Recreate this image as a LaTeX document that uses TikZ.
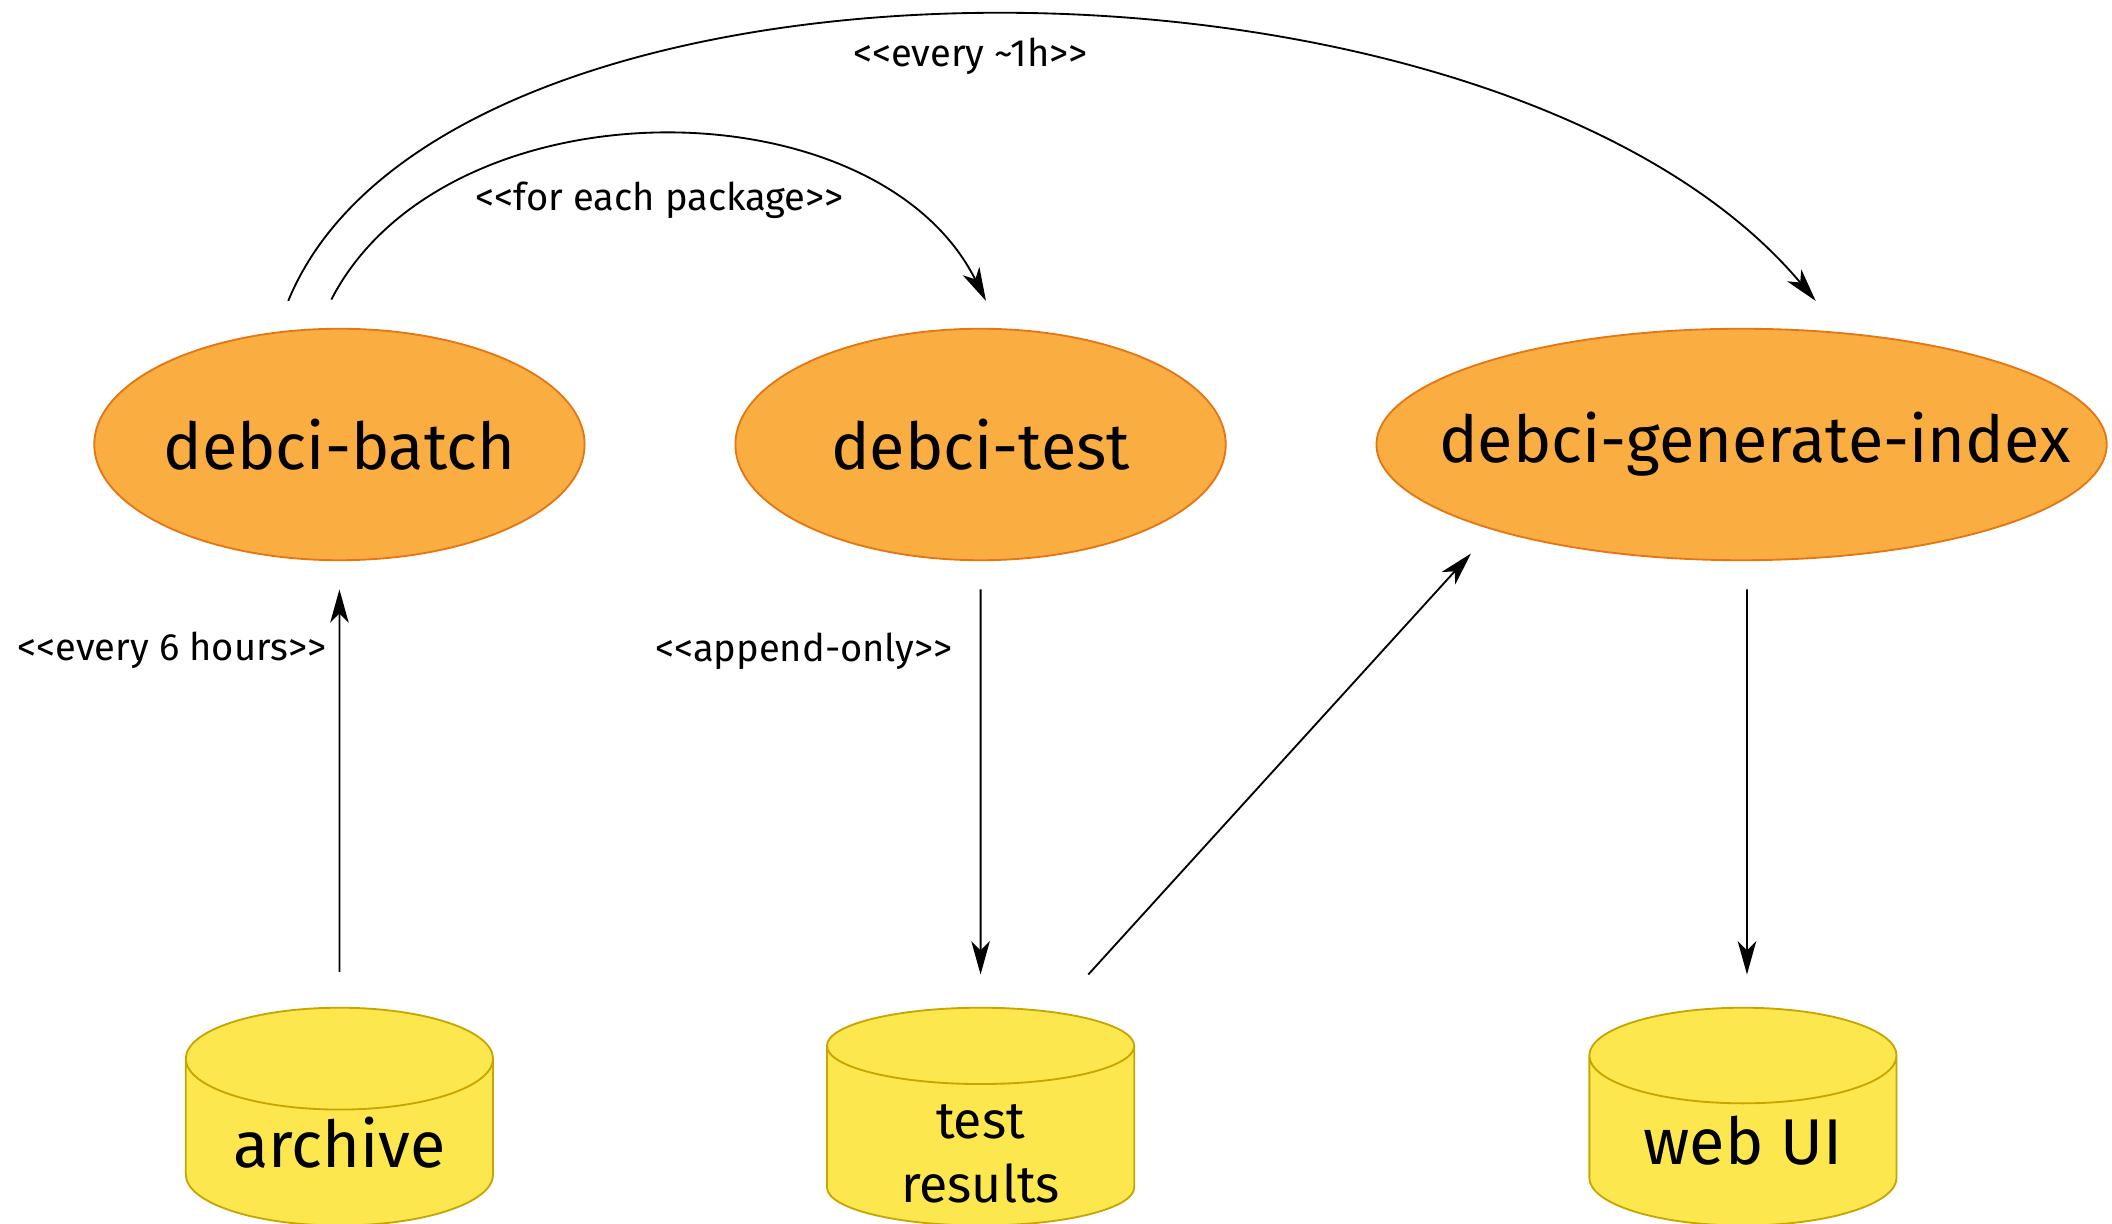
\documentclass[tikz,border=0pt]{standalone}
\usepackage{fontspec}
\setmainfont{Fira Sans}
\usetikzlibrary{shapes.geometric,arrows.meta,calc}
\definecolor{procfill}{RGB}{250,173,64}
\definecolor{procline}{RGB}{228,118,20}
\definecolor{storefill}{RGB}{252,232,78}
\definecolor{storeline}{RGB}{200,165,0}
\newcommand{\stereo}[1]{<\kern0pt<#1>\kern0pt>}
\begin{document}
\begin{tikzpicture}[x=0.0128cm,y=0.0128cm,>={Stealth[length=9pt,width=5pt,inset=2.5pt]}]
        \tikzstyle{process}=[ellipse,draw=procline,fill=procfill,line width=0.5pt,minimum height=2.2cm,inner sep=0pt,font=\fontsize{17.5}{20}\selectfont]
        \tikzstyle{store}=[cylinder,shape border rotate=90,aspect=0.48,draw=storeline,fill=storefill,line width=0.5pt,minimum width=2.92cm,minimum height=2.07cm,inner sep=0pt,align=center,anchor=shape center]
        \tikzstyle{edge}=[draw,->,line width=0.5pt]
        \tikzstyle{note}=[font=\fontsize{10.3}{12}\selectfont]
       \useasboundingbox (0,0) rectangle (1568,908);
       \begin{scope}
         \node [process,minimum width=4.66cm] (batch) at (252,578) {\makebox[0pt]{debci-batch}};
         \node [process,minimum width=4.66cm] (test) at (728,578) {\makebox[0pt]{debci-test}};
         \node [process,minimum width=6.94cm] (index) at (1293,578) {\makebox[0pt]{\hspace{0.25cm}debci-generate-index}};

         \node [store,font=\fontsize{17.5}{20}\selectfont] (archive) at (252,79) {archive};
         \node [store,font=\fontsize{14}{17.4}\selectfont] (results) at (728,79) {\raisebox{-0.33cm}[0pt][0pt]{\begin{tabular}{@{}c@{}}test\\results\end{tabular}}};
         \node [store,font=\fontsize{17.5}{20}\selectfont] (webui) at (1294,79) {web UI};

         \path[edge] ($(archive.north)+(0,26)$) -- node[note,left,pos=0.84] {\stereo{every 6 hours}} ($(batch.south)+(0,-21)$);
         \path[edge] ($(test.south)+(0,-21)$) -- node[note,left,pos=0.16,xshift=-4pt] {\stereo{append-only}} ($(results.north)+(0,24)$);
         \path[edge] ($(results.north)+(80,24)$) -- ($(index.center)+(-201,-81)$);
         \path[edge] ($(index.south)+(4,-21)$) -- ($(webui.north)+(3,24)$);

         \path[edge] ($(batch.north)+(-6,21)$) .. controls +(84,163) and +(-82,164) .. node[note,pos=0.5,yshift=-0.62cm] {\stereo{for each package}} ($(test.north)+(4,20)$);
         \path[edge] ($(batch.north)+(-38,20)$) .. controls +(116,283) and +(-238,283) .. node[note,pos=0.5,xshift=-0.19cm,yshift=-0.39cm] {\stereo{every \textasciitilde1h}} ($(index.north)+(55,20)$);
        \end{scope}
      \end{tikzpicture}
\end{document}
